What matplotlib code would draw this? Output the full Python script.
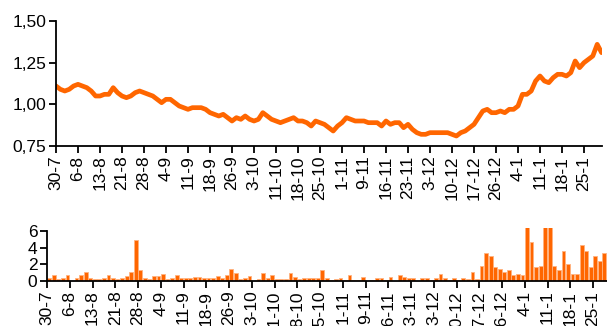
import matplotlib
matplotlib.use("Agg")
import matplotlib.pyplot as plt
import numpy as np

plt.rcParams['font.family'] = ['Liberation Sans', 'DejaVu Sans']

# Weekly date labels (one every 5 trading days)
tick_labels = ["30-7", "6-8", "13-8", "21-8", "28-8", "4-9", "11-9", "18-9",
               "26-9", "3-10", "11-10", "18-10", "25-10", "1-11", "9-11",
               "16-11", "23-11", "3-12", "10-12", "17-12", "26-12", "4-1",
               "11-1", "18-1", "25-1"]

# Daily price series
price = [1.11, 1.09, 1.08, 1.09, 1.11, 1.12, 1.11, 1.10, 1.08, 1.05,
         1.05, 1.06, 1.06, 1.10, 1.07, 1.05, 1.04, 1.05, 1.07, 1.08,
         1.07, 1.06, 1.05, 1.03, 1.01, 1.03, 1.03, 1.01, 0.99, 0.98,
         0.97, 0.98, 0.98, 0.98, 0.97, 0.95, 0.94, 0.93, 0.94, 0.92,
         0.90, 0.92, 0.91, 0.93, 0.91, 0.90, 0.91, 0.95, 0.93, 0.91,
         0.90, 0.89, 0.90, 0.91, 0.92, 0.90, 0.90, 0.89, 0.87, 0.90,
         0.89, 0.88, 0.86, 0.84, 0.87, 0.89, 0.92, 0.91, 0.90, 0.90,
         0.90, 0.89, 0.89, 0.89, 0.87, 0.90, 0.88, 0.89, 0.89, 0.86,
         0.88, 0.85, 0.83, 0.82, 0.82, 0.83, 0.83, 0.83, 0.83, 0.83,
         0.82, 0.81, 0.83, 0.84, 0.86, 0.88, 0.92, 0.96, 0.97, 0.95,
         0.95, 0.96, 0.95, 0.97, 0.97, 0.99, 1.06, 1.06, 1.08, 1.14,
         1.17, 1.14, 1.13, 1.16, 1.18, 1.18, 1.17, 1.19, 1.26, 1.22,
         1.25, 1.27, 1.29, 1.36, 1.31]

# Daily volume
volume = [0.4, 0.75, 0.2, 0.4, 0.75, 0.05, 0.4, 0.75, 1.1, 0.4,
          0.2, 0.2, 0.4, 0.75, 0.4, 0.2, 0.4, 0.6, 1.1, 4.9,
          1.35, 0.4, 0.2, 0.6, 0.6, 0.9, 0.2, 0.4, 0.75, 0.4,
          0.35, 0.35, 0.5, 0.5, 0.35, 0.35, 0.35, 0.6, 0.4, 0.75,
          1.5, 0.95, 0.2, 0.4, 0.6, 0.0, 0.2, 0.95, 0.4, 0.75,
          0.2, 0.2, 0.2, 0.95, 0.5, 0.2, 0.35, 0.35, 0.35, 0.35,
          1.3, 0.35, 0.1, 0.2, 0.35, 0.15, 0.7, 0.15, 0.15, 0.5,
          0.0, 0.15, 0.35, 0.35, 0.1, 0.5, 0.0, 0.75, 0.5, 0.35,
          0.35, 0.0, 0.35, 0.35, 0.15, 0.35, 0.9, 0.35, 0.15, 0.35,
          0.15, 0.35, 0.3, 1.1, 0.3, 1.85, 3.35, 3.0, 1.65, 1.5,
          1.1, 1.3, 0.7, 0.9, 0.7, 7.0, 4.7, 1.65, 1.85, 7.0,
          7.0, 1.85, 1.3, 3.55, 2.05, 0.9, 0.9, 4.3, 3.55, 1.65,
          3.0, 2.45, 3.35]

ORANGE = "#FF6600"
W, H = 607, 326
fig = plt.figure(figsize=(W / 100, H / 100), dpi=100)

tick_pos = np.arange(0, 5 * len(tick_labels), 5)

# ---- price line ----
ax1 = fig.add_axes([56 / W, 1 - 146 / H, 545.6 / W, 125 / H])
ax1.plot(np.arange(len(price)), price, color=ORANGE, lw=3.4,
         solid_joinstyle="round", solid_capstyle="round")
ax1.set_xlim(0, len(price) - 1)
ax1.set_ylim(0.75, 1.50)
ax1.set_yticks([0.75, 1.00, 1.25, 1.50])
ax1.set_yticklabels(["0,75", "1,00", "1,25", "1,50"])
ax1.set_xticks(tick_pos)
ax1.set_xticklabels(tick_labels, rotation=90)

# ---- volume bars ----
ax2 = fig.add_axes([47 / W, 1 - 281 / H, 568.75 / W, 53.3 / H])
ax2.bar(np.arange(len(volume)) + 0.08, volume, width=0.84, align="edge",
        color=ORANGE, edgecolor="#FFB27F", linewidth=0.6)
ax2.set_xlim(0, 125)
ax2.set_ylim(0, 6.4)
ax2.set_yticks([0, 2, 4, 6])
ax2.set_xticks(tick_pos)
ax2.set_xticklabels(tick_labels, rotation=90)
ax2.spines["left"].set_bounds(0, 6)

for ax in (ax1, ax2):
    ax.spines["top"].set_visible(False)
    ax.spines["right"].set_visible(False)
    ax.spines["left"].set_linewidth(1.3)
    ax.spines["bottom"].set_linewidth(1.3)
    ax.tick_params(axis="both", direction="out", length=5, width=1.3,
                   labelsize=12.5, colors="black", pad=2)
    ax.set_facecolor("none")

fig.savefig("out.png", dpi=100)
